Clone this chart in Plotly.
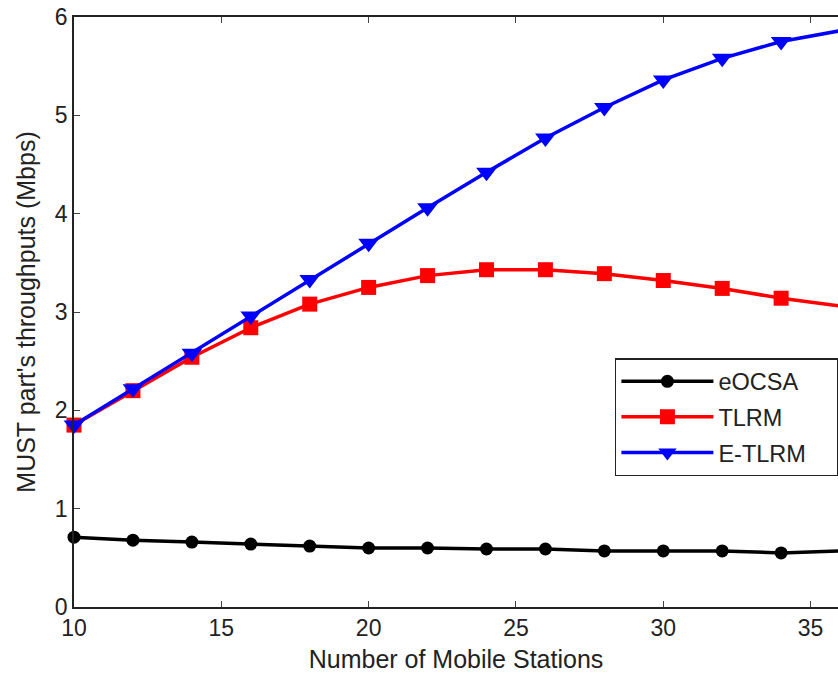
import plotly.graph_objects as go

# Number of mobile stations
stations = [10, 12, 14, 16, 18, 20, 22, 24, 26, 28, 30, 32, 34, 36]

# MUST part's throughputs (Mbps)
eocsa = [0.71, 0.68, 0.66, 0.64, 0.62, 0.60, 0.60, 0.59, 0.59, 0.57, 0.57, 0.57, 0.55, 0.57]
tlrm = [1.85, 2.20, 2.54, 2.84, 3.08, 3.25, 3.37, 3.43, 3.43, 3.39, 3.32, 3.24, 3.14, 3.06]
etlrm = [1.85, 2.22, 2.58, 2.96, 3.33, 3.70, 4.06, 4.42, 4.77, 5.08, 5.36, 5.58, 5.75, 5.86]

x_ticks = [10, 15, 20, 25, 30, 35]
y_ticks = [0, 1, 2, 3, 4, 5, 6]

FONT = "Liberation Sans, Arial, sans-serif"
INK = "#222222"
PAD = "\u00a0" * 4  # widens the legend box toward the right edge

fig = go.Figure()
fig.add_trace(go.Scatter(
    x=stations, y=eocsa, name="eOCSA" + PAD, mode="lines+markers",
    legendgroup="a",
    line=dict(color="black", width=3.5),
    marker=dict(symbol="circle", size=13, color="black"),
    cliponaxis=False,
))
fig.add_trace(go.Scatter(
    x=stations, y=tlrm, name="TLRM" + PAD, mode="lines+markers",
    legendgroup="b",
    line=dict(color="#ff0000", width=3.5),
    marker=dict(symbol="square", size=15, color="#ff0000"),
    cliponaxis=False,
))
fig.add_trace(go.Scatter(
    x=stations, y=etlrm, name="E-TLRM" + PAD, mode="lines+markers",
    legendgroup="c",
    line=dict(color="#0000ff", width=3.5),
    marker=dict(symbol="triangle-down", size=18, color="#0000ff"),
    cliponaxis=False,
))

fig.update_layout(
    width=838, height=677,
    margin=dict(l=74, r=0, t=17, b=70, autoexpand=False),
    paper_bgcolor="white", plot_bgcolor="white",
    font=dict(family=FONT, size=20.5, color=INK),
    showlegend=True,
    legend=dict(
        x=0.708, y=0.422, xanchor="left", yanchor="top",
        bgcolor="white", bordercolor=INK, borderwidth=1.5,
        font=dict(size=23.5, color=INK),
        itemwidth=92,
        tracegroupgap=2,
    ),
)
fig.update_xaxes(
    range=[10, 35.93], tickvals=x_ticks, ticks="inside", ticklen=6,
    tickfont=dict(size=23),
    showline=True, linecolor=INK, linewidth=1.5, mirror="ticks",
    showgrid=False, zeroline=False,
    title=dict(text="Number of Mobile Stations", standoff=10),
)
fig.update_yaxes(
    range=[0, 6], tickvals=y_ticks, ticks="inside", ticklen=6,
    tickfont=dict(size=23),
    showline=True, linecolor=INK, linewidth=1.5, mirror=False,
    showgrid=False, zeroline=False,
    title=dict(text="MUST part's throughputs (Mbps)", standoff=12),
)

fig.write_html("out.html")
